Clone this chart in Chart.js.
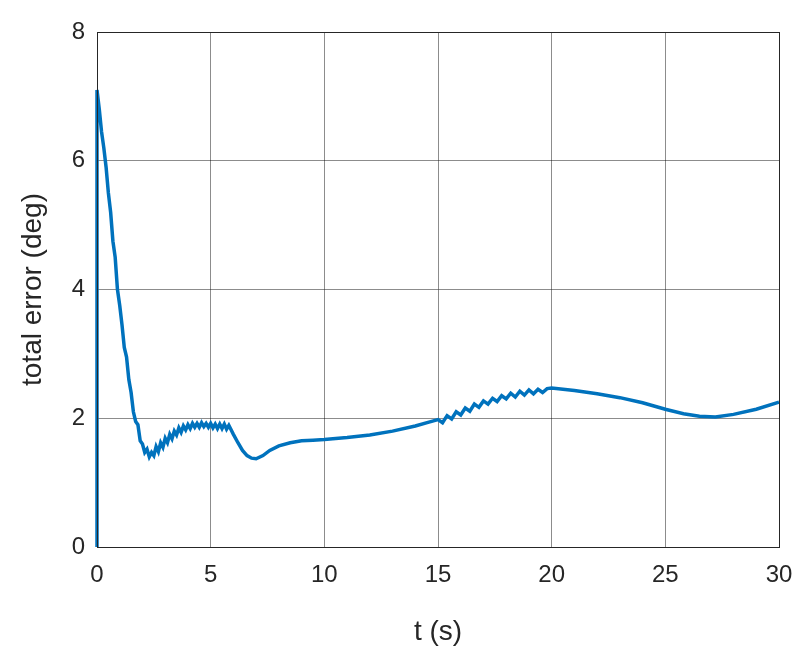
<!DOCTYPE html>
<html>
<head>
<meta charset="utf-8">
<script src="https://cdn.jsdelivr.net/npm/chart.js@4"></script>
<style>
body{margin:0;background:#fff}
#wrap{width:809px;height:653px}
</style>
</head>
<body>
<div id="wrap"><canvas id="c"></canvas></div>
<script>
// time samples (s) and total error (deg)
const tVals = [0,0,0.1,0.2,0.3,0.4,0.5,0.6,0.7,0.8,0.9,1.0,1.1,1.2,1.3,1.4,1.5,1.6,1.7,1.8,1.9,2.0,
  2.1,2.2,2.3,2.4,2.5,2.6,2.7,2.8,2.9,3.0,3.1,3.2,3.3,3.4,3.5,3.6,3.7,3.8,3.9,4.0,4.1,4.2,4.3,4.4,4.5,4.6,4.7,4.8,4.9,5.0,5.1,5.2,5.3,5.4,5.5,5.6,5.7,5.8,
  6.0,6.2,6.4,6.6,6.8,7.0,7.3,7.6,8.0,8.5,9.0,9.5,10,11,12,13,14,14.6,15,
  15.2,15.4,15.6,15.8,16.0,16.2,16.4,16.6,16.8,17.0,17.2,17.4,17.6,17.8,18.0,18.2,18.4,18.6,18.8,19.0,19.2,19.4,19.6,19.8,20.0,
  21,22,23,24,25,25.8,26.5,27.2,28,29,30]
const errVals = [0,7.1,6.8,6.45,6.2,5.9,5.5,5.2,4.75,4.5,4.0,3.75,3.45,3.1,2.95,2.6,2.4,2.1,1.95,1.9,1.65,1.6,
  1.47,1.52,1.4,1.47,1.42,1.56,1.48,1.62,1.55,1.69,1.62,1.75,1.68,1.8,1.74,1.85,1.78,1.88,1.82,1.9,1.84,1.92,1.86,1.92,1.86,1.93,1.87,1.92,1.86,1.92,1.85,1.91,1.84,1.91,1.84,1.91,1.83,1.89,
  1.75,1.62,1.5,1.42,1.38,1.37,1.42,1.5,1.57,1.62,1.65,1.66,1.67,1.7,1.74,1.8,1.88,1.94,1.98,
  1.93,2.04,1.99,2.1,2.05,2.16,2.11,2.22,2.17,2.27,2.22,2.31,2.26,2.35,2.3,2.39,2.33,2.42,2.36,2.44,2.38,2.45,2.4,2.46,2.47,
  2.43,2.38,2.32,2.24,2.14,2.07,2.03,2.02,2.06,2.14,2.25]
const xTicks = [0,5,10,15,20,25,30]
const yTicks = [0,2,4,6,8]

const pts = tVals.map((t,i)=>({x:t,y:errVals[i]}))

const boxPlugin = {
  id:'box',
  afterDraw(chart){
    const a = chart.chartArea, c = chart.ctx
    c.save()
    c.strokeStyle = '#262626'
    c.lineWidth = 1
    c.strokeRect(a.left+0.5,a.top+0.5,a.right-a.left,a.bottom-a.top)
    c.restore()
  }
}

const fam = '"Liberation Sans", Arial, sans-serif'

new Chart(document.getElementById('c'),{
  type:'scatter',
  data:{datasets:[{
    data:pts,
    showLine:true,
    borderColor:'#0072BD',
    borderWidth:3.5,
    pointRadius:0,
    tension:0,
    clip:4
  }]},
  options:{
    responsive:true,
    maintainAspectRatio:false,
    animation:false,
    layout:{padding:{top:32,right:30,left:12,bottom:0}},
    plugins:{legend:{display:false},tooltip:{enabled:false}},
    scales:{
      x:{
        type:'linear',min:0,max:30,
        afterBuildTicks(ax){ax.ticks = xTicks.map(v=>({value:v}))},
        afterFit(ax){ax.height = 106},
        grid:{color:'rgba(0,0,0,0.45)',lineWidth:1,drawTicks:false},
        border:{color:'#262626'},
        ticks:{color:'#262626',font:{family:fam,size:24},padding:14,maxRotation:0},
        title:{display:true,text:'t (s)',color:'#262626',font:{family:fam,size:28},padding:{top:0}}
      },
      y:{
        min:0,max:8,
        afterBuildTicks(ax){ax.ticks = yTicks.map(v=>({value:v}))},
        afterFit(ax){ax.width = 85},
        grid:{color:'rgba(0,0,0,0.45)',lineWidth:1,drawTicks:false},
        border:{color:'#262626'},
        ticks:{color:'#262626',font:{family:fam,size:24},padding:12},
        title:{display:true,text:'total error (deg)',color:'#262626',font:{family:fam,size:28},padding:{bottom:6}}
      }
    }
  },
  plugins:[boxPlugin]
})
</script>
</body>
</html>
